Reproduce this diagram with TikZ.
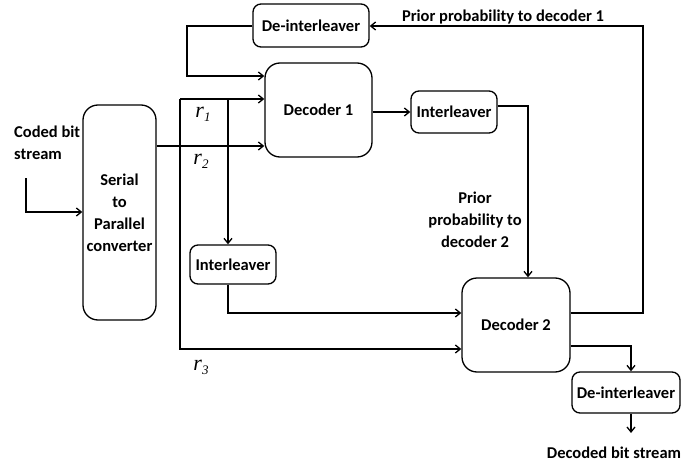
\documentclass[tikz,border=0pt]{standalone}
\usepackage{fontspec}
\setmainfont{Carlito}
\newfontfamily\tms{Liberation Serif}
\usetikzlibrary{arrows.meta}
\newcommand{\rlab}[1]{{\tms\mdseries\itshape\fontsize{22}{22}\selectfont r\raisebox{-4pt}{\fontsize{13}{13}\selectfont #1}}}
\begin{document}
\begin{tikzpicture}[x=1pt,y=-1pt,
  every node/.style={font=\bfseries\fontsize{16.5}{22}\selectfont},
  blk/.style={draw,line width=1.3pt,rounded corners=8pt,inner sep=0pt,align=center},
  dec/.style={blk,rounded corners=15pt},
  lbl/.style={align=center,inner sep=0pt},
  arr/.style={line width=1.3pt,-{Straight Barb[length=5pt,width=8pt]}},
  ln/.style={line width=1.3pt}]
\useasboundingbox (0,0) rectangle (681,463);
% blocks
\node[blk,minimum width=116pt,minimum height=43pt] (dtop) at (311,25.5) {De-interleaver};
\node[dec,minimum width=107pt,minimum height=94pt] (dec1) at (318.5,110) {Decoder 1};
\node[blk,minimum width=86pt,minimum height=42pt] (intR) at (454,112) {Interleaver};
\node[dec,minimum width=73pt,minimum height=215pt] (s2p) at (119.5,212.5) {Serial\\to\\Parallel\\converter};
\node[blk,minimum width=86pt,minimum height=39pt] (intL) at (233,264.5) {Interleaver};
\node[dec,minimum width=108pt,minimum height=94pt] (dec2) at (516,325) {Decoder 2};
\node[blk,minimum width=108pt,minimum height=41pt] (dbot) at (626,392.5) {De-interleaver};
% labels
\node[lbl,align=left,anchor=north west] (coded) at (14,126) {Coded bit\\stream};
\node[lbl] (p1) at (503,17) {Prior probability to decoder 1};
\node[lbl] (p2) at (475,220) {Prior\\probability to\\decoder 2};
\node[lbl] (out) at (614,453) {Decoded bit stream};
\node[lbl] (r1) at (203,114) {\rlab{1}};
\node[lbl] (r2) at (201,161) {\rlab{2}};
\node[lbl] (r3) at (201,367) {\rlab{3}};
% coordinates
\coordinate (cin) at (26,178);
\coordinate (ca) at (180,99);
\coordinate (cb) at (228,99);
\coordinate (cc) at (180,349);
\coordinate (cfb) at (187,26);
\coordinate (cr2) at (643,26);
\coordinate (cd) at (528,106);
\coordinate (ce) at (631,346);
% connectors
\draw[arr] (cin) |- (s2p.west |- 0,212);
\draw[arr] (dtop.west |- cfb) -| (cfb |- 0,76) -- (dec1.west |- 0,76);
\draw[arr] (ca) -- (ca -| dec1.west);
\draw[arr] (s2p.east |- 0,146) -- (dec1.west |- 0,146);
\draw[arr] (cb) -- (cb |- intL.north);
\draw[arr] (ca) -- (cc) -- (cc -| dec2.west);
\draw[arr] (cb |- intL.south) |- (dec2.west |- 0,313);
\draw[arr] (dec1.east |- 0,112) -- (intR.west);
\draw[arr] (intR.east |- cd) -- (cd) -- (cd |- dec2.north);
\draw[arr] (dec2.east |- 0,313) -| (cr2) -- (cr2 -| dtop.east);
\draw[arr] (dec2.east |- ce) -- (ce) -- (ce |- dbot.north);
\draw[arr] (ce |- dbot.south) -- (ce |- 0,433);
\end{tikzpicture}
\end{document}
